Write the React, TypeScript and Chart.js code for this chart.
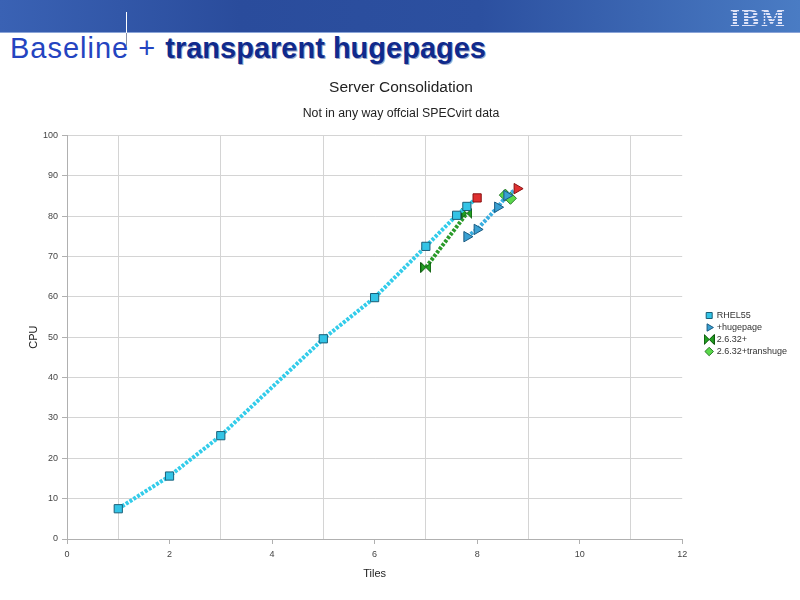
import React, { useEffect, useRef } from "react";
import { Chart, registerables } from "chart.js";
Chart.register(...registerables);

const rhelX = [1, 2, 3, 5, 6, 7, 7.6, 7.8, 8];
const rhelY = [7.5, 15.6, 25.6, 49.6, 59.8, 72.5, 80.2, 82.4, 84.5];
const hugeX = [7.8, 8, 8.4, 8.58, 8.78];
const hugeY = [74.9, 76.7, 82.2, 85.1, 86.8];
const k2632X = [7, 7.8];
const k2632Y = [67.3, 80.7];
const transX = [8.55, 8.65];
const transY = [85.2, 84.4];
const seriesNames = ["RHEL55", "+hugepage", "2.6.32+", "2.6.32+transhuge"];
const xTicks = [0, 2, 4, 6, 8, 10, 12];

function pts(xs: number[], ys: number[]) {
  return xs.map((x, i) => ({ x, y: ys[i] }));
}

function makeBowtie(fill: string, stroke: string) {
  const c = document.createElement("canvas");
  c.width = 11;
  c.height = 11;
  const g = c.getContext("2d")!;
  g.fillStyle = fill;
  g.strokeStyle = stroke;
  g.lineWidth = 1;
  g.beginPath();
  g.moveTo(0.5, 0.5);
  g.lineTo(5.5, 5.5);
  g.lineTo(0.5, 10.5);
  g.closePath();
  g.moveTo(10.5, 0.5);
  g.lineTo(5.5, 5.5);
  g.lineTo(10.5, 10.5);
  g.closePath();
  g.fill();
  g.stroke();
  return c;
}

const legendShift = {
  id: "legendShift",
  afterLayout(chart: any) {
    const lg = chart.legend;
    if (!lg) return;
    lg.left += 21;
    lg.right += 21;
    lg.top += 13;
    lg.bottom += 13;
  },
};

export default function App() {
  const ref = useRef<HTMLCanvasElement>(null);
  useEffect(() => {
    document.body.style.margin = "0";
    const bowtie = makeBowtie("#22a022", "#0f5a0f");
    const red = "#e03030";
    const chart = new Chart(ref.current!, {
      type: "line",
      plugins: [legendShift],
      data: {
        datasets: [
          {
            label: seriesNames[0],
            data: pts(rhelX, rhelY),
            borderColor: "#33ccea",
            borderWidth: 4,
            borderDash: [3, 1.5],
            pointStyle: "rect",
            pointRadius: 5.8,
            pointBackgroundColor: rhelX.map((_, i) => (i === rhelX.length - 1 ? red : "#33c4e6")),
            pointBorderColor: rhelX.map((_, i) => (i === rhelX.length - 1 ? "#8a1010" : "#1a5f78")),
            pointBorderWidth: 1,
            backgroundColor: "#33c4e6",
          },
          {
            label: seriesNames[1],
            data: pts(hugeX, hugeY),
            borderColor: "#3aaee0",
            borderWidth: 4,
            borderDash: [3, 1.5],
            pointStyle: "triangle",
            pointRotation: 90,
            pointRadius: 6,
            pointBackgroundColor: hugeX.map((_, i) => (i === hugeX.length - 1 ? red : "#3aa0d2")),
            pointBorderColor: hugeX.map((_, i) => (i === hugeX.length - 1 ? "#8a1010" : "#1a5a80")),
            pointBorderWidth: 1,
            backgroundColor: "#3aa0d2",
          },
          {
            label: seriesNames[2],
            data: pts(k2632X, k2632Y),
            borderColor: "#2a9a2a",
            borderWidth: 4,
            borderDash: [3, 1.5],
            pointStyle: bowtie as any,
            pointRadius: 6,
            backgroundColor: "#22a022",
          },
          {
            label: seriesNames[3],
            data: pts(transX, transY),
            borderColor: "#5ad84a",
            borderWidth: 4,
            borderDash: [3, 1.5],
            pointStyle: "rectRot",
            pointRadius: 6,
            pointBackgroundColor: "#5ad84a",
            pointBorderColor: "#2a7a2a",
            pointBorderWidth: 1,
            backgroundColor: "#5ad84a",
          },
        ],
      },
      options: {
        animation: false,
        responsive: false,
        layout: { padding: { left: 26, right: 24, top: 0, bottom: 19 } },
        plugins: {
          title: {
            display: true,
            text: "Server Consolidation",
            color: "#222",
            font: { family: "Liberation Sans", size: 15.5, weight: "normal" },
            padding: { top: 18, bottom: 6 },
          },
          subtitle: {
            display: true,
            text: "Not in any way offcial SPECvirt data",
            color: "#222",
            font: { family: "Liberation Sans", size: 12.3, weight: "normal" },
            padding: { top: 4, bottom: 14 },
          },
          legend: {
            position: "right",
            labels: {
              usePointStyle: true,
              boxWidth: 6,
              boxHeight: 6,
              padding: 3,
              color: "#333",
              font: { family: "Liberation Sans", size: 9 },
            },
          },
          tooltip: { enabled: false },
        },
        scales: {
          x: {
            type: "linear",
            min: 0,
            max: 12,
            ticks: {
              stepSize: 1,
              autoSkip: false,
              maxRotation: 0,
              padding: 5,
              color: "#444",
              font: { family: "Liberation Sans", size: 9 },
              callback: (v: any) => (xTicks.includes(Number(v)) ? String(v) : ""),
            },
            grid: {
              color: (c: any) => (c.tick && c.tick.value % 2 === 1 ? "#d4d4d4" : "rgba(0,0,0,0)"),
              tickColor: (c: any) => (c.tick && c.tick.value % 2 === 0 ? "#b0b0b0" : "rgba(0,0,0,0)"),
              tickLength: 5,
            },
            border: { color: "#b0b0b0" },
            title: {
              display: true,
              text: "Tiles",
              color: "#222",
              font: { family: "Liberation Sans", size: 11 },
              padding: { top: 3, bottom: 0 },
            },
          },
          y: {
            min: 0,
            max: 100,
            afterFit: (s: any) => {
              s.width = 41;
            },
            ticks: {
              stepSize: 10,
              color: "#444",
              font: { family: "Liberation Sans", size: 9 },
              padding: 4,
            },
            grid: { color: "#d4d4d4", tickColor: "#b0b0b0", tickLength: 5 },
            border: { color: "#b0b0b0" },
            title: {
              display: true,
              text: "CPU",
              color: "#222",
              font: { family: "Liberation Sans", size: 11 },
              padding: { top: 1, bottom: 0 },
            },
          },
        },
      },
    });
    return () => chart.destroy();
  }, []);

  return (
    <div style={{ position: "fixed", left: 0, top: 0, width: 800, height: 600, background: "#fff", overflow: "hidden", fontFamily: "Liberation Sans" }}>
      <div
        style={{
          position: "absolute",
          left: 0,
          top: 0,
          width: 800,
          height: 32,
          background: "linear-gradient(90deg, #3a62b4 0%, #2a4c9c 30%, #2c50a0 60%, #4a7cc4 100%)",
          borderBottom: "1px solid #8aa4d8",
        }}
      />
      <div
        style={{
          position: "absolute",
          right: 14,
          top: 7,
          fontSize: 22,
          fontWeight: "bold",
          letterSpacing: 1,
          color: "#d8dcf4",
          fontFamily: "DejaVu Serif",
          lineHeight: "22px",
          backgroundImage: "repeating-linear-gradient(180deg, #dfe3f8 0px, #dfe3f8 2px, transparent 2px, transparent 3px)",
          WebkitBackgroundClip: "text",
          WebkitTextFillColor: "transparent",
        }}
      >
        IBM
      </div>
      <div style={{ position: "absolute", left: 10, top: 31, fontSize: 29, lineHeight: "34px", whiteSpace: "nowrap" }}>
        <span style={{ color: "#2444c0", letterSpacing: 1 }}>Baseline + </span>
        <span style={{ color: "#102a8c", fontWeight: "bold", textShadow: "1px 1px 0 #9aa8c8" }}>transparent hugepages</span>
      </div>
      <div style={{ position: "absolute", left: 126, top: 12, width: 1, height: 21, background: "#ffffff" }} />
      <div style={{ position: "absolute", left: 126, top: 33, width: 1, height: 13, background: "#8890a8" }} />
      <canvas ref={ref} width={800} height={540} style={{ position: "absolute", left: 0, top: 60 }} />
    </div>
  );
}
